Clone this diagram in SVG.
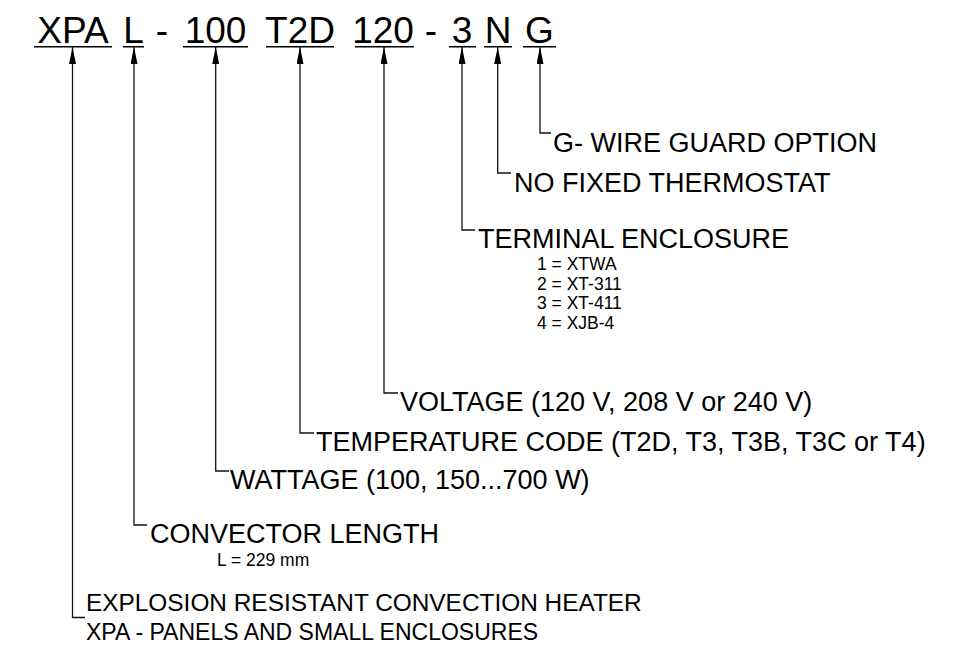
<svg xmlns="http://www.w3.org/2000/svg" width="964" height="645" viewBox="0 0 964 645">
<style>
text{font-family:"Liberation Sans",Arial,sans-serif;fill:#000}
.code{font-size:37px;text-anchor:middle}
.lbl{font-size:27px}
.sm{font-size:17.5px}
.ul{stroke:#000;stroke-width:1.4;fill:none}
.ld{stroke:#111;stroke-width:1.3;fill:none;marker-start:url(#ah)}
</style>
<defs>
<marker id="ah" viewBox="0 0 17 7" refX="17" refY="3.5" markerWidth="17" markerHeight="7" markerUnits="userSpaceOnUse" orient="auto-start-reverse">
<path d="M0,0 L17,3.5 L0,7 z" fill="#000"/>
</marker>
</defs>
<rect width="964" height="645" fill="#fff"/>
<g id="code">
<text class="code" x="73" y="43">XPA</text>
<text class="code" x="133.5" y="43">L</text>
<text class="code" x="162" y="43">-</text>
<text class="code" x="215.5" y="43">100</text>
<text class="code" x="300" y="43">T2D</text>
<text class="code" x="383" y="43">120</text>
<text class="code" x="431" y="43">-</text>
<text class="code" x="462" y="43">3</text>
<text class="code" x="498" y="43">N</text>
<text class="code" x="539.5" y="43">G</text>
<path class="ul" d="M34 46.7H112M123 46.7H144M183 46.7H248M266 46.7H334M355 46.7H414M449 46.7H476M484 46.7H512M523 46.7H556"/>
</g>
<g id="connectors">
<path class="ld" d="M540 47V133H551"/>
<path class="ld" d="M497.7 47V173H511"/>
<path class="ld" d="M462 47V230H475"/>
<path class="ld" d="M384 47V393H398"/>
<path class="ld" d="M300 47V433H314"/>
<path class="ld" d="M215.7 47V471H229"/>
<path class="ld" d="M134 47V525H147"/>
<path class="ld" d="M72.5 47V617.5H85"/>
</g>
<g id="n-guard"><text class="lbl" x="553" y="151.5">G- WIRE GUARD OPTION</text></g>
<g id="n-thermostat"><text class="lbl" x="514" y="191.5">NO FIXED THERMOSTAT</text></g>
<g id="n-enclosure">
<text class="lbl" x="478" y="247.5">TERMINAL ENCLOSURE</text>
<text class="sm" x="537" y="270">1 = XTWA</text>
<text class="sm" x="537" y="289.5">2 = XT-311</text>
<text class="sm" x="537" y="309">3 = XT-411</text>
<text class="sm" x="537" y="328.5">4 = XJB-4</text>
</g>
<g id="n-voltage"><text class="lbl" x="400" y="411">VOLTAGE (120 V, 208 V or 240 V)</text></g>
<g id="n-temp"><text class="lbl" x="316" y="451">TEMPERATURE CODE (T2D, T3, T3B, T3C or T4)</text></g>
<g id="n-wattage"><text class="lbl" x="230" y="489">WATTAGE (100, 150...700 W)</text></g>
<g id="n-length">
<text class="lbl" x="150" y="543">CONVECTOR LENGTH</text>
<text class="sm" x="217" y="566">L = 229 mm</text>
</g>
<g id="n-heater">
<text class="lbl" style="font-size:24.4px" x="86" y="611">EXPLOSION RESISTANT CONVECTION HEATER</text>
<text class="lbl" style="font-size:23px" x="86" y="640">XPA - PANELS AND SMALL ENCLOSURES</text>
</g>
</svg>
